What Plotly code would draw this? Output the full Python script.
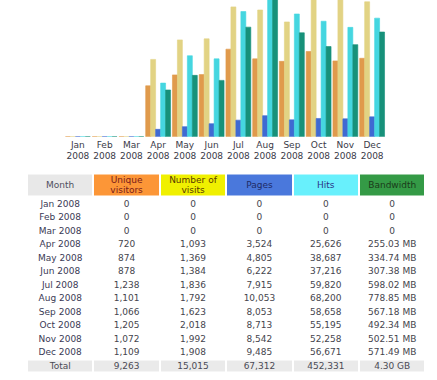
import plotly.graph_objects as go

months = ["Jan", "Feb", "Mar", "Apr", "May", "Jun", "Jul", "Aug", "Sep", "Oct", "Nov", "Dec"]
year = "2008"
visitors = [0, 0, 0, 720, 874, 878, 1238, 1101, 1066, 1205, 1072, 1109]
visits = [0, 0, 0, 1093, 1369, 1384, 1836, 1792, 1623, 2018, 1992, 1908]
pages = [0, 0, 0, 3524, 4805, 6222, 7915, 10053, 8053, 8713, 8542, 9485]
hits = [0, 0, 0, 25626, 38687, 37216, 59820, 68200, 58658, 55195, 52258, 56671]
bandwidth_mb = [0, 0, 0, 255.03, 334.74, 307.38, 598.02, 778.85, 567.18, 492.34, 502.51, 571.49]
header_lines = [["Month"], ["Unique", "visitors"], ["Number of", "visits"], ["Pages"], ["Hits"], ["Bandwidth"]]
total_row = ["Total", "9,263", "15,015", "67,312", "452,331", "4.30 GB"]

FONT = "DejaVu Sans"
x_labels = [f"{m}<br>{year}" for m in months]

# ---------------- bar chart (AWStats style scaling) ----------------
vmax = max(visits)
hmax = max(hits)
bmax = max(bandwidth_mb)

series = [
    ("Unique visitors", [v / vmax for v in visitors], "#E09A4C"),
    ("Number of visits", [v / vmax for v in visits], "#E2D384"),
    ("Pages", [v / hmax for v in pages], "#3F6AD2"),
    ("Hits", [v / hmax for v in hits], "#45D6E0"),
    ("Bandwidth", [v / bmax for v in bandwidth_mb], "#17917A"),
]

fig = go.Figure()
for name, vals, col in series:
    fig.add_trace(go.Bar(
        x=x_labels, y=vals, name=name,
        marker=dict(color=col, line=dict(color=col, width=0.6)),
        hoverinfo="skip", xaxis="x", yaxis="y",
    ))

# ---------------- table ----------------
def fmt(n):
    return f"{n:,}"


def fmt_bw(b):
    return "0" if b == 0 else f"{b:.2f} MB"


columns = [
    [f"{m} {year}" for m in months] + [total_row[0]],
    [fmt(v) for v in visitors] + [total_row[1]],
    [fmt(v) for v in visits] + [total_row[2]],
    [fmt(v) for v in pages] + [total_row[3]],
    [fmt(v) for v in hits] + [total_row[4]],
    [fmt_bw(b) for b in bandwidth_mb] + [total_row[5]],
]
n_body = len(columns[0])
ncols = len(columns)

header_fills = ["#E8E8E8", "#FC9637", "#F0F000", "#4A78DC", "#68F0FC", "#349A46"]
header_text_cols = ["#505060", "#7A1A1A", "#5A3A00", "#1E2A66", "#2A3488", "#1A3A1A"]
palette = header_fills + ["#FFFFFF", "#EAEAEA"]

# layout of table rows (in pixel-like units of the table axis, top-down)
TABLE_TOP, TABLE_BOTTOM = 171, 376
ROW_PITCH = 13.5
FIRST_CENTER = 204.7
HEADER_TOP = 173.5
HEADER_CENTER = 185.8
HEADER_LINE_SP = 10.0

centers = [FIRST_CENTER + ROW_PITCH * i for i in range(n_body)]
edges = [HEADER_TOP] + [c - ROW_PITCH / 2 for c in centers] + [centers[-1] + ROW_PITCH / 2]

z = [list(range(ncols))]
for i in range(n_body):
    z.append([7 if i == n_body - 1 else 6] * ncols)

cs = []
npal = len(palette)
for k, c in enumerate(palette):
    cs.append([k / npal, c])
    cs.append([(k + 1) / npal, c])

fig.add_trace(go.Heatmap(
    z=z, x=list(range(ncols + 1)), y=edges,
    colorscale=cs, zmin=-0.5, zmax=npal - 0.5, showscale=False,
    xgap=2, ygap=3, hoverinfo="skip", xaxis="x2", yaxis="y2",
))

# header text
hx, hy, ht, hc = [], [], [], []
for j, lines in enumerate(header_lines):
    n = len(lines)
    for k, line in enumerate(lines):
        hx.append(j + 0.5)
        hy.append(HEADER_CENTER + (k - (n - 1) / 2) * HEADER_LINE_SP)
        ht.append(line)
        hc.append(header_text_cols[j])

fig.add_trace(go.Scatter(
    x=hx, y=hy, text=ht, mode="text", textposition="middle center",
    textfont=dict(family=FONT, size=9, color=hc),
    hoverinfo="skip", xaxis="x2", yaxis="y2", showlegend=False,
))

# body text
bx, by, bt, bc = [], [], [], []
for j, col in enumerate(columns):
    for i, val in enumerate(col):
        bx.append(j + 0.5)
        by.append(centers[i])
        bt.append(val)
        if i == n_body - 1:
            bc.append("#4A4A55")
        elif j == 0:
            bc.append("#3A3A55")
        else:
            bc.append("#45454D")

fig.add_trace(go.Scatter(
    x=bx, y=by, text=bt, mode="text", textposition="middle center",
    textfont=dict(family=FONT, size=9, color=bc),
    hoverinfo="skip", xaxis="x2", yaxis="y2", showlegend=False,
))

fig.update_layout(
    width=437, height=380,
    margin=dict(l=0, r=0, t=0, b=0),
    paper_bgcolor="white", plot_bgcolor="white",
    showlegend=False,
    barmode="group", bargap=0.07, bargroupgap=0,
    xaxis=dict(domain=[64.5 / 437, 385.5 / 437], showgrid=False, zeroline=False,
               showline=False, ticks="", ticklabelstandoff=1,
               tickfont=dict(family=FONT, size=9, color="#3A3A48")),
    yaxis=dict(domain=[1 - 136.7 / 380, 1], range=[0, 0.958], visible=False,
               showgrid=False, zeroline=False),
    xaxis2=dict(domain=[27 / 437, 425.4 / 437], range=[0, ncols], visible=False,
                anchor="y2"),
    yaxis2=dict(domain=[1 - TABLE_BOTTOM / 380, 1 - TABLE_TOP / 380],
                range=[TABLE_BOTTOM, TABLE_TOP], visible=False, anchor="x2"),
)

fig.write_html("out.html", config={"displayModeBar": False},
               post_script="document.body.style.margin='0';")
